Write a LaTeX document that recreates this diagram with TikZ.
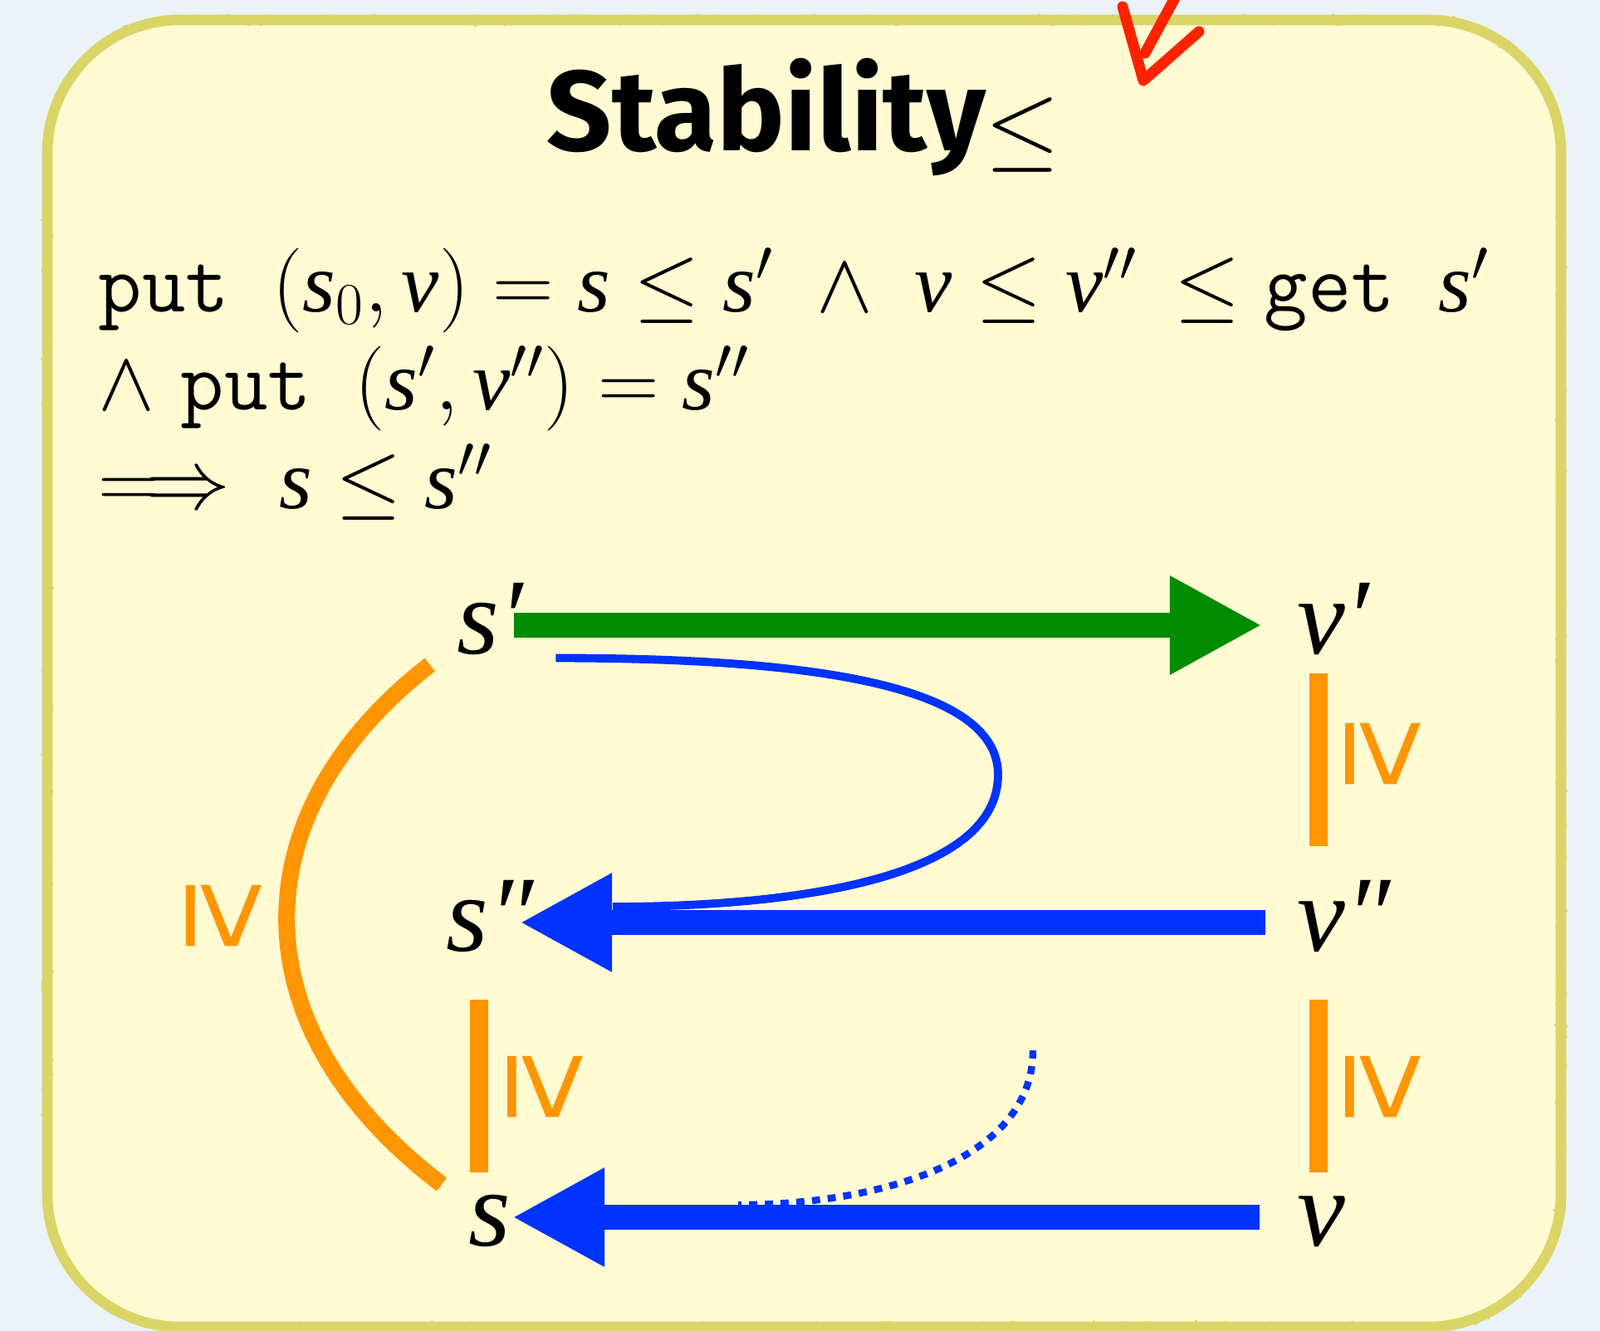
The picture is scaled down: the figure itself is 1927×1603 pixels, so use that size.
\RequirePackage{fix-cm}
\documentclass[tikz,border=0pt]{standalone}
\usepackage{fontspec}
\newfontfamily\titlefont{Fira Sans}
\newfontfamily\signfont{Liberation Sans}
\newfontfamily\letterfont{Liberation Serif}[NFSSFamily=libserif]
\DeclareMathAlphabet{\mathlib}{TU}{libserif}{m}{it}
\newcommand{\mS}{\mathlib{s}}
\newcommand{\mV}{\mathlib{v}}
\usetikzlibrary{arrows.meta,decorations.pathmorphing}

\definecolor{pagebg}{RGB}{235,243,248}
\definecolor{cardfill}{RGB}{255,250,210}
\definecolor{cardline}{RGB}{218,213,102}
\definecolor{getgreen}{RGB}{0,140,0}
\definecolor{putblue}{RGB}{0,51,255}
\definecolor{leqorange}{RGB}{255,149,0}
\definecolor{scribblered}{RGB}{255,34,0}

\begin{document}
\begin{tikzpicture}[
  x=0.01cm, y=-0.01cm,
  letter/.style={font=\fontsize{37pt}{40pt}\selectfont\letterfont\itshape, inner sep=0pt,
    text height=25pt, text depth=5.6pt},
  formula/.style={font=\fontsize{29pt}{33.6pt}\selectfont, align=left, inner sep=0pt},
  titletext/.style={inner sep=0pt},
  getarrow/.style={draw=getgreen, line width=8.3pt, -{Triangle[length=31.6pt,width=31.6pt]}},
  putarrow/.style={draw=putblue, line width=8.5pt, -{Triangle[length=31.6pt,width=31.6pt]}},
  putpath/.style={draw=putblue, line width=2.8pt},
  putdots/.style={draw=putblue, line width=2.4pt, dash pattern=on 2.8pt off 2.6pt},
  leqbar/.style={draw=leqorange, line width=6pt},
  leqarc/.style={draw=leqorange, line width=5.7pt},
  leqsign/.style={text=leqorange, font=\fontsize{43pt}{43pt}\selectfont\signfont, rotate=-90, inner sep=0pt},
  crayon/.style={draw=cardline, line width=1.3pt, decorate,
    decoration={random steps, segment length=2.5pt, amplitude=1.4pt}},
  scribble/.style={draw=scribblered, line width=3.7pt, line cap=round, line join=round}
]

% Page and card.
\useasboundingbox (0,0) rectangle (1927,1603);
\fill[pagebg] (0,0) rectangle (1927,1603);
\def\cardpath{(217,24) -- (1720,24) arc[start angle=-90, end angle=0, radius=160]
  -- (1880,1438) arc[start angle=0, end angle=90, radius=160]
  -- (217,1598) arc[start angle=90, end angle=180, radius=160]
  -- (57,184) arc[start angle=180, end angle=270, radius=160] -- cycle}
\filldraw[fill=cardfill, draw=cardline, line width=3.6pt] \cardpath;
\draw[crayon] \cardpath;
\draw[crayon, decoration={random steps, segment length=3pt, amplitude=1.2pt}] \cardpath;

% Rows and columns of the square.
\def\xs{590}
\def\xv{1562}
\def\ya{753}
\def\yb{1111}
\def\yc{1466}
\def\xbarS{577}
\def\xbarV{1588}

% Title and law.
\node[titletext, anchor=base] (title) at (968,182)
  {{\fontsize{39pt}{48pt}\titlefont\bfseries Stability}\raisebox{-0.09cm}{\fontsize{33pt}{33pt}\selectfont$\leq$}};
\node[formula, anchor=base west] (law) at (118,612)
  {\texttt{put\ }$(\mS_0, \mV) = \mS \leq \mS' \;\wedge\; \mV \leq \mV''\, \leq \mathtt{get}$\texttt{\ }$\mS'$\\
   $\wedge$ \texttt{put\ }$(\mS', \mV'') = \mS''$\\
   $\Longrightarrow\ \mS \leq \mS''$};

% States and views.
\node[letter] (sp) at (\xs,\ya) {s′};
\node[letter, anchor=west] (vp) at (\xv,\ya) {v′};
\node[letter] (spp) at (\xs,\yb) {s″};
\node[letter, anchor=west] (vpp) at (\xv,\yb) {v″};
\node[letter] (s) at (\xs,\yc) {s};
\node[letter, anchor=west] (v) at (\xv,\yc) {v};

% get and put arrows.
\draw[getarrow, shorten <=-0.11cm, shorten >=0.42cm] (sp.east) -- (vp.west);
\draw[putarrow, shorten <=0.38cm, shorten >=-0.17cm] (vpp.west) -- (spp.east);
\draw[putarrow, shorten <=0.45cm, shorten >=0.01cm] (v.west) -- (s.east);

\coordinate (turn) at (1202,933);
\draw[putpath] ([shift={(39,-15)}]sp.south east) .. controls +(330,0) and +(0,-103) .. (turn)
  .. controls +(0,127) and +(211,0) .. ([shift={(95,-19)}]spp.east);

\coordinate (szero) at (1244,1265);
\draw[putdots] (szero) .. controls +(0,135) and +(165,0) .. ([shift={(273,-15)}]s.east);

% Orderings.
\draw[leqbar, shorten <=0.03cm, shorten >=0.37cm] (vp.south -| \xbarV,0) -- (vpp.north -| \xbarV,0)
  node[midway, xshift=0.78cm, yshift=0.24cm, leqsign] {≥};
\draw[leqbar, shorten <=0.38cm] (vpp.south -| \xbarV,0) -- (v.north -| \xbarV,0)
  node[midway, xshift=0.78cm, yshift=-0.2cm, leqsign] {≥};
\draw[leqbar, shorten <=0.38cm] (spp.south -| \xbarS,0) -- (s.north -| \xbarS,0)
  node[midway, xshift=0.8cm, yshift=-0.2cm, leqsign] {≥};
\draw[leqarc] ([shift={(-32,-7)}]sp.south west) .. controls +(-232,180) and +(-247,-187)
  .. ([shift={(-32,15)}]s.north west)
  node[midway, xshift=-0.75cm, yshift=0.08cm, leqsign] {≥};

% Hand-drawn mark.
\draw[scribble] (1352,8) -- (1377,97) -- (1444,38);
\draw[scribble] (1379,64) -- (1418,-8);

\end{tikzpicture}
\end{document}
